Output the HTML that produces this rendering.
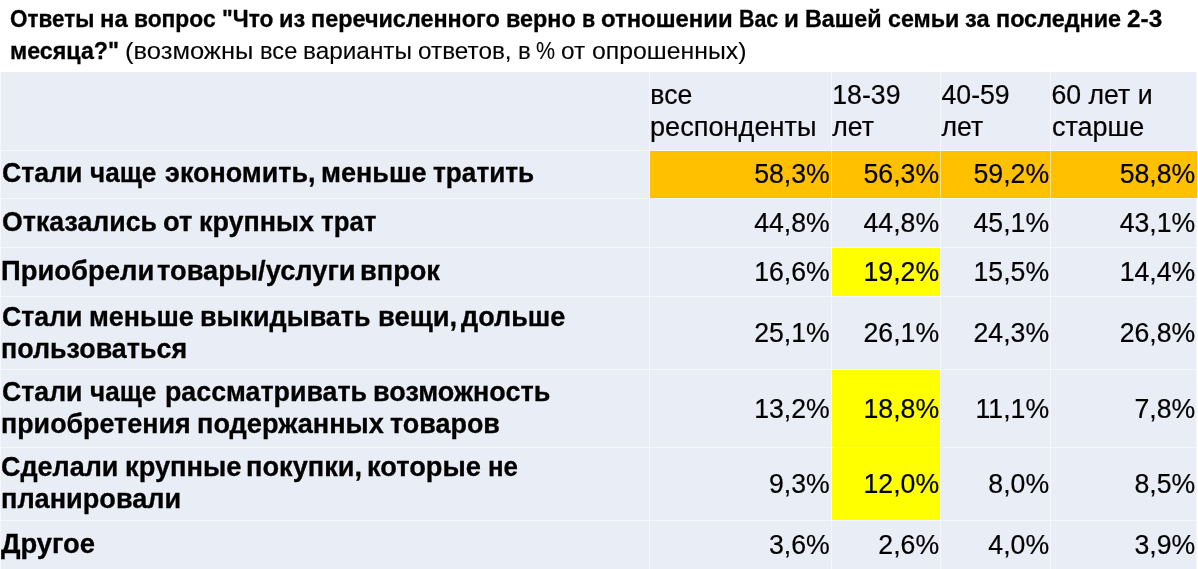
<!DOCTYPE html>
<html lang="ru"><head><meta charset="utf-8"><title>Ответы на вопрос</title>
<style>
html,body{margin:0;padding:0;background:#fff}
body{width:1198px;height:569px;position:relative;overflow:hidden;font-family:"Liberation Sans",sans-serif;color:#000}
svg{position:absolute;left:0;top:0}
.tw{position:absolute;white-space:pre;font-size:23.8px;line-height:28px;transform-origin:0 50%;font-weight:400}
.c{position:absolute;white-space:pre;font-size:26.67px;line-height:32px;font-weight:400;transform:scaleY(1.05);transform-origin:0 25.24px}
.b{font-weight:700}
.c{-webkit-text-stroke:0.2px #000}
.c.b{-webkit-text-stroke:0.3px #000}
.tw{-webkit-text-stroke:0.1px #000}
.tw.b{-webkit-text-stroke:0.3px #000}
.r{text-align:right}
</style></head><body>
<svg width="1198" height="569" viewBox="0 0 1198 569">
<rect x="0" y="72.0" width="1197.0" height="497.0" fill="#E9EDF6"/>
<line x1="1196.5" y1="72.0" x2="1196.5" y2="569" stroke="#FFFFFF" stroke-width="1" stroke-opacity="0.5"/>
<line x1="0.5" y1="72.0" x2="0.5" y2="569" stroke="#FFFFFF" stroke-width="1" stroke-opacity="0.5"/>
<rect x="650.0" y="151.0" width="547.0" height="47.0" fill="#FFC000"/>
<rect x="832.0" y="248.0" width="108.0" height="48.0" fill="#FFFF00"/>
<rect x="832.0" y="370.0" width="108.0" height="150.0" fill="#FFFF00"/>
<line x1="649.5" y1="72.0" x2="649.5" y2="569" stroke="#FFFFFF" stroke-width="1" stroke-opacity="0.5"/>
<line x1="831.5" y1="72.0" x2="831.5" y2="569" stroke="#FFFFFF" stroke-width="1" stroke-opacity="0.5"/>
<line x1="940.5" y1="72.0" x2="940.5" y2="569" stroke="#FFFFFF" stroke-width="1" stroke-opacity="0.5"/>
<line x1="1050.5" y1="72.0" x2="1050.5" y2="569" stroke="#FFFFFF" stroke-width="1" stroke-opacity="0.5"/>
<line x1="0" y1="150.5" x2="1197.0" y2="150.5" stroke="#FFFFFF" stroke-width="1" stroke-opacity="0.5"/>
<line x1="0" y1="198.5" x2="1197.0" y2="198.5" stroke="#FFFFFF" stroke-width="1" stroke-opacity="0.5"/>
<line x1="0" y1="247.5" x2="1197.0" y2="247.5" stroke="#FFFFFF" stroke-width="1" stroke-opacity="0.5"/>
<line x1="0" y1="296.5" x2="1197.0" y2="296.5" stroke="#FFFFFF" stroke-width="1" stroke-opacity="0.5"/>
<line x1="0" y1="369.5" x2="1197.0" y2="369.5" stroke="#FFFFFF" stroke-width="1" stroke-opacity="0.5"/>
<line x1="0" y1="447.5" x2="1197.0" y2="447.5" stroke="#FFFFFF" stroke-width="1" stroke-opacity="0.5"/>
<line x1="0" y1="520.5" x2="1197.0" y2="520.5" stroke="#FFFFFF" stroke-width="1" stroke-opacity="0.5"/>
</svg>
<span class="tw b" style="left:10.00px;top:4.95px;transform:scaleX(0.9434)">Ответы</span>
<span class="tw b" style="left:100.36px;top:4.95px;transform:scaleX(1.0034)">на</span>
<span class="tw b" style="left:134.09px;top:4.95px;transform:scaleX(0.9569)">вопрос</span>
<span class="tw b" style="left:221.67px;top:4.95px;transform:scaleX(0.9533)">"Что</span>
<span class="tw b" style="left:279.08px;top:4.95px;transform:scaleX(0.9906)">из</span>
<span class="tw b" style="left:311.33px;top:4.95px;transform:scaleX(0.9836)">перечисленного</span>
<span class="tw b" style="left:506.14px;top:4.95px;transform:scaleX(0.9828)">верно</span>
<span class="tw b" style="left:581.95px;top:4.95px;transform:scaleX(0.9007)">в</span>
<span class="tw b" style="left:601.17px;top:4.95px;transform:scaleX(1.0027)">отношении</span>
<span class="tw b" style="left:738.78px;top:4.95px;transform:scaleX(0.8994)">Вас</span>
<span class="tw b" style="left:784.08px;top:4.95px;transform:scaleX(1.0139)">и</span>
<span class="tw b" style="left:804.95px;top:4.95px;transform:scaleX(0.9818)">Вашей</span>
<span class="tw b" style="left:887.69px;top:4.95px;transform:scaleX(0.9780)">семьи</span>
<span class="tw b" style="left:965.14px;top:4.95px;transform:scaleX(0.9918)">за</span>
<span class="tw b" style="left:995.72px;top:4.95px;transform:scaleX(0.9834)">последние</span>
<span class="tw b" style="left:1126.86px;top:4.95px;transform:scaleX(1.0227)">2-3</span>
<span class="tw b" style="left:10.00px;top:36.75px;transform:scaleX(0.9769)">месяца?"</span>
<span class="tw" style="left:125.08px;top:36.75px;transform:scaleX(1.0729)">(возможны</span>
<span class="tw" style="left:259.50px;top:36.75px;transform:scaleX(0.9946)">все</span>
<span class="tw" style="left:302.84px;top:36.75px;transform:scaleX(1.0236)">варианты</span>
<span class="tw" style="left:417.92px;top:36.75px;transform:scaleX(1.0224)">ответов,</span>
<span class="tw" style="left:517.56px;top:36.75px;transform:scaleX(1.0099)">в</span>
<span class="tw" style="left:536.38px;top:36.75px;transform:scaleX(0.9004)">%</span>
<span class="tw" style="left:561.47px;top:36.75px;transform:scaleX(1.0238)">от</span>
<span class="tw" style="left:591.69px;top:36.75px;transform:scaleX(1.0433)">опрошенных)</span>
<div class="c" style="left:650.3px;top:78.76px">все</div>
<div class="c" style="left:649.6999999999999px;top:110.96px;transform:scale(1.019,1.05)">респонденты</div>
<div class="c" style="left:832.3px;top:78.76px">18-39</div>
<div class="c" style="left:832.3px;top:110.96px;transform:scale(1.0,1.05)">лет</div>
<div class="c" style="left:941.5px;top:78.76px">40-59</div>
<div class="c" style="left:941.5px;top:110.96px;transform:scale(1.0,1.05)">лет</div>
<div class="c" style="left:1051.5px;top:78.76px">60 лет и</div>
<div class="c" style="left:1051.5px;top:110.96px;transform:scale(1.012,1.05)">старше</div>
<span class="c b" style="left:1.60px;top:157.06px;transform:scale(1.0006,1.05)">Стали</span>
<span class="c b" style="left:90.02px;top:157.06px;transform:scale(0.9788,1.05)">чаще</span>
<span class="c b" style="left:165.09px;top:157.06px;transform:scale(1.0106,1.05)">экономить,</span>
<span class="c b" style="left:320.63px;top:157.06px;transform:scale(1.0128,1.05)">меньше</span>
<span class="c b" style="left:432.61px;top:157.06px;transform:scale(0.9823,1.05)">тратить</span>
<span class="c b" style="left:1.60px;top:206.46px;transform:scale(1.0033,1.05)">Отказались</span>
<span class="c b" style="left:163.17px;top:206.46px;transform:scale(1.0259,1.05)">от</span>
<span class="c b" style="left:198.63px;top:206.46px;transform:scale(1.0098,1.05)">крупных</span>
<span class="c b" style="left:320.62px;top:206.46px;transform:scale(0.9689,1.05)">трат</span>
<span class="c b" style="left:1.40px;top:255.46px;transform:scale(1.0289,1.05)">Приобрели</span>
<span class="c b" style="left:157.19px;top:255.46px;transform:scale(1.0224,1.05)">товары/услуги</span>
<span class="c b" style="left:360.21px;top:255.46px;transform:scale(1.0202,1.05)">впрок</span>
<span class="c b" style="left:1.60px;top:300.56px;transform:scale(1.0006,1.05)">Стали</span>
<span class="c b" style="left:88.64px;top:300.56px;transform:scale(1.0059,1.05)">меньше</span>
<span class="c b" style="left:199.93px;top:300.56px;transform:scale(1.0099,1.05)">выкидывать</span>
<span class="c b" style="left:377.91px;top:300.56px;transform:scale(1.0251,1.05)">вещи,</span>
<span class="c b" style="left:460.60px;top:300.56px;transform:scale(1.0132,1.05)">дольше</span>
<span class="c b" style="left:1.44px;top:332.56px;transform:scale(1.0080,1.05)">пользоваться</span>
<span class="c b" style="left:1.60px;top:376.26px;transform:scale(1.0006,1.05)">Стали</span>
<span class="c b" style="left:90.02px;top:376.26px;transform:scale(0.9788,1.05)">чаще</span>
<span class="c b" style="left:164.59px;top:376.26px;transform:scale(1.0055,1.05)">рассматривать</span>
<span class="c b" style="left:372.63px;top:376.26px;transform:scale(1.0131,1.05)">возможность</span>
<span class="c b" style="left:1.44px;top:408.06px;transform:scale(1.0073,1.05)">приобретения</span>
<span class="c b" style="left:197.32px;top:408.06px;transform:scale(1.0179,1.05)">подержанных</span>
<span class="c b" style="left:389.69px;top:408.06px;transform:scale(1.0102,1.05)">товаров</span>
<span class="c b" style="left:1.49px;top:451.06px;transform:scale(1.0106,1.05)">Сделали</span>
<span class="c b" style="left:125.41px;top:451.06px;transform:scale(1.0233,1.05)">крупные</span>
<span class="c b" style="left:246.22px;top:451.06px;transform:scale(1.0199,1.05)">покупки,</span>
<span class="c b" style="left:367.21px;top:451.06px;transform:scale(1.0220,1.05)">которые</span>
<span class="c b" style="left:487.51px;top:451.06px;transform:scale(0.9684,1.05)">не</span>
<span class="c b" style="left:1.22px;top:482.96px;transform:scale(1.0176,1.05)">планировали</span>
<span class="c b" style="left:0.80px;top:528.26px;transform:scale(1.0259,1.05)">Другое</span>
<div class="c r" style="left:629.8px;width:200px;top:157.76px">58,3%</div>
<div class="c r" style="left:739.1px;width:200px;top:157.76px">56,3%</div>
<div class="c r" style="left:849.0999999999999px;width:200px;top:157.76px">59,2%</div>
<div class="c r" style="left:995.3px;width:200px;top:157.76px">58,8%</div>
<div class="c r" style="left:629.8px;width:200px;top:207.06px">44,8%</div>
<div class="c r" style="left:739.1px;width:200px;top:207.06px">44,8%</div>
<div class="c r" style="left:849.0999999999999px;width:200px;top:207.06px">45,1%</div>
<div class="c r" style="left:995.3px;width:200px;top:207.06px">43,1%</div>
<div class="c r" style="left:629.8px;width:200px;top:256.16px">16,6%</div>
<div class="c r" style="left:739.1px;width:200px;top:256.16px">19,2%</div>
<div class="c r" style="left:849.0999999999999px;width:200px;top:256.16px">15,5%</div>
<div class="c r" style="left:995.3px;width:200px;top:256.16px">14,4%</div>
<div class="c r" style="left:629.8px;width:200px;top:317.06px">25,1%</div>
<div class="c r" style="left:739.1px;width:200px;top:317.06px">26,1%</div>
<div class="c r" style="left:849.0999999999999px;width:200px;top:317.06px">24,3%</div>
<div class="c r" style="left:995.3px;width:200px;top:317.06px">26,8%</div>
<div class="c r" style="left:629.8px;width:200px;top:393.26px">13,2%</div>
<div class="c r" style="left:739.1px;width:200px;top:393.26px">18,8%</div>
<div class="c r" style="left:849.0999999999999px;width:200px;top:393.26px">11,1%</div>
<div class="c r" style="left:995.3px;width:200px;top:393.26px">7,8%</div>
<div class="c r" style="left:629.8px;width:200px;top:468.26px">9,3%</div>
<div class="c r" style="left:739.1px;width:200px;top:468.26px">12,0%</div>
<div class="c r" style="left:849.0999999999999px;width:200px;top:468.26px">8,0%</div>
<div class="c r" style="left:995.3px;width:200px;top:468.26px">8,5%</div>
<div class="c r" style="left:629.8px;width:200px;top:529.26px">3,6%</div>
<div class="c r" style="left:739.1px;width:200px;top:529.26px">2,6%</div>
<div class="c r" style="left:849.0999999999999px;width:200px;top:529.26px">4,0%</div>
<div class="c r" style="left:995.3px;width:200px;top:529.26px">3,9%</div>
</body></html>
